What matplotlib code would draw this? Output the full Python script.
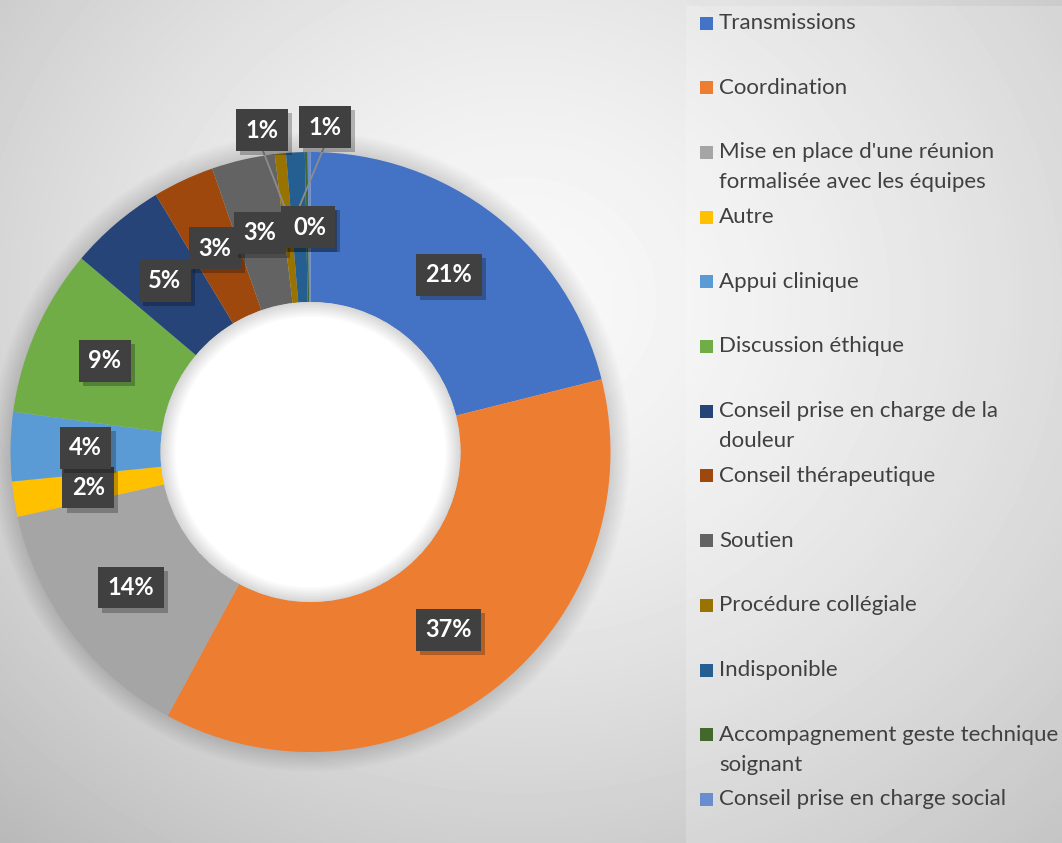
import numpy as np
import matplotlib.pyplot as plt
from matplotlib.patches import Rectangle, Circle, Wedge
import matplotlib.patheffects as pe

# donnees (en %)
categories = [
    "Transmissions",
    "Coordination",
    "Mise en place d'une réunion\nformalisée avec les équipes",
    "Autre",
    "Appui clinique",
    "Discussion éthique",
    "Conseil prise en charge de la\ndouleur",
    "Conseil thérapeutique",
    "Soutien",
    "Procédure collégiale",
    "Indisponible",
    "Accompagnement geste technique\nsoignant",
    "Conseil prise en charge social",
]
values = [21.05, 36.7, 13.6, 1.9, 3.7, 9.0, 5.2, 3.3, 3.4, 0.6, 1.0, 0.15, 0.15]
colors = ["#4472C4", "#ED7D31", "#A5A5A5", "#FFC000", "#5B9BD5", "#70AD47",
          "#264478", "#9E480E", "#636363", "#997300", "#255E91", "#43682B",
          "#698ED0"]
# etiquettes deplacees hors de l'anneau (index -> position)
outside_labels = {9: (-0.162, 1.073), 10: (0.048, 1.083)}

W, H = 1062, 843
plt.rcParams['font.family'] = ['Lato', 'DejaVu Sans']
fig = plt.figure(figsize=(W / 100, H / 100), dpi=100)

# fond en degrade radial
bg = fig.add_axes([0, 0, 1, 1])
bg.axis('off')
yy, xx = np.mgrid[0:H, 0:W]
d = np.hypot(xx - 520, (yy - 300) * 1.1) / 700
img = 0.975 - 0.21 * np.clip(d, 0, 1.3) ** 1.5
bg.imshow(img, cmap='gray', vmin=0, vmax=1, aspect='auto', interpolation='bilinear')


def fx(px):
    return px / W


def fy(py):
    return 1 - py / H


# cadre de la legende
fig.patches.append(Rectangle((fx(686), 0), fx(W - 686), fy(6), transform=fig.transFigure,
                             facecolor='white', alpha=0.2, edgecolor='none', zorder=0.5))

# anneau
ax = fig.add_axes([fx(10.5), fy(752), 600 / W, 600 / H])

ax.pie(values, colors=colors, startangle=90, counterclock=False, radius=1,
       wedgeprops=dict(width=0.5, edgecolor='none'))
ax.set_xlim(-1, 1)
ax.set_ylim(-1, 1)
ax.axis('off')

# ombre douce autour de l'anneau
for k in range(12):
    ax.add_patch(Circle((0, 0), 1 + 0.006 * k, facecolor='black', alpha=0.012,
                        edgecolor='none', zorder=0, clip_on=False))

# trou blanc avec ombre interieure
ax.add_patch(Circle((0, 0), 0.5, facecolor='white', edgecolor='none', zorder=3))
for k in range(10):
    ax.add_patch(Wedge((0, 0), 0.5, 0, 360, width=0.005 * (k + 1), facecolor='black',
                       alpha=0.014, edgecolor='none', zorder=3.1))

# etiquettes de pourcentage
total = sum(values)
cum = 0.0
for i, v in enumerate(values):
    ang = np.deg2rad(360 * (cum + v / 2) / total)
    cum += v
    txt = f"{round(v / total * 100):.0f}%"
    if i in outside_labels:
        x, y = outside_labels[i]
        ex, ey = 0.81 * np.sin(ang), 0.81 * np.cos(ang)
        ax.plot([x, ex], [y - 0.06, ey], color='#8c8c8c', lw=1.3, zorder=4,
                clip_on=False)
    else:
        x, y = 0.75 * np.sin(ang), 0.75 * np.cos(ang)
    t = ax.text(x, y, txt, ha='center', va='center', fontsize=17, fontweight='bold',
                color='white', zorder=6,
                bbox=dict(boxstyle='square,pad=0.4', facecolor='#404040',
                          edgecolor='none'))
    t.get_bbox_patch().set_path_effects(
        [pe.SimplePatchShadow(offset=(3, -3), shadow_rgbFace='black', alpha=0.25),
         pe.Normal()])

# legende
for i, (lab, c) in enumerate(zip(categories, colors)):
    yc = 23 + 64.7 * i
    fig.patches.append(Rectangle((fx(700), fy(yc + 6.5)), fx(13), 13 / H,
                                 transform=fig.transFigure, facecolor=c,
                                 edgecolor='none', zorder=2))
    for j, line in enumerate(lab.split('\n')):
        fig.text(fx(719), fy(yc + 30 * j), line, ha='left', va='center',
                 fontsize=16, color='#404040')

fig.savefig('out.png', dpi=100)
